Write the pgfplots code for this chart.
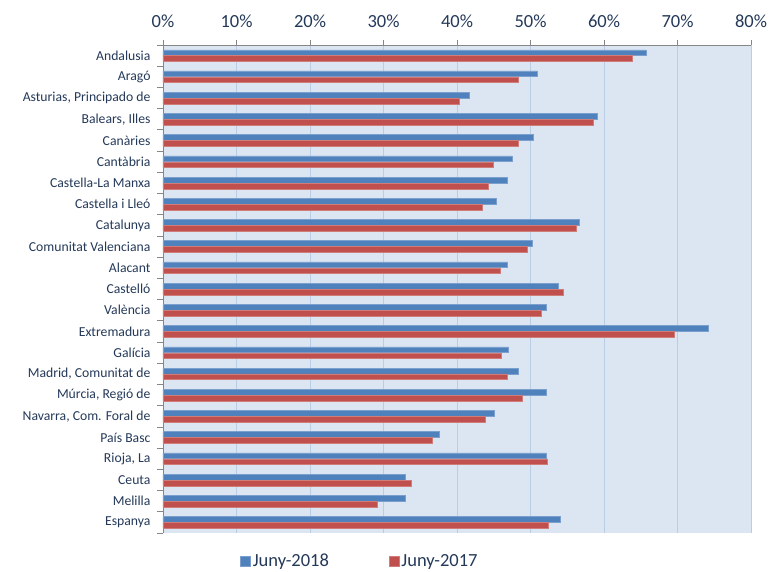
\documentclass[border=0pt]{standalone}
\usepackage{pgfplots}
\pgfplotsset{compat=1.18}
\usepackage{fontspec}
\setmainfont{Carlito}
\definecolor{b18}{RGB}{79,129,189}
\definecolor{r17}{RGB}{192,80,77}
\definecolor{bgc}{RGB}{220,230,242}
\definecolor{gridc}{RGB}{185,205,229}
\definecolor{txt}{RGB}{36,57,89}
\definecolor{axc}{RGB}{134,134,134}
\begin{document}
\begin{tikzpicture}
\useasboundingbox (0,0) rectangle (769pt,571pt);
\begin{axis}[
  at={(163pt,38pt)}, anchor=south west,
  scale only axis, width=588pt, height=488pt,
  xbar, y dir=reverse,
  xmin=0, xmax=80, ymin=-0.5, ymax=22.5,
  axis x line*=top, axis y line*=left,
  axis line style={-, draw=axc, line width=0.8pt},
  axis background/.style={fill=bgc},
  xmajorgrids, grid style={gridc, line width=0.9pt},
  xtick={0,10,...,80},
  xticklabel={\pgfmathprintnumber{\tick}\%},
  /pgf/number format/assume math mode=true,
  xticklabel style={font=\fontsize{18.5}{20}\selectfont, text=txt, yshift=9pt},
  tick align=outside,
  major tick length=5pt,
  minor tick length=6pt,
  tick style={draw=axc, line width=0.8pt},
  ytick={0,...,22},
  minor ytick={-0.5,0.5,...,22.5},
  every major y tick/.append style={draw=none},
  yticklabels={Andalusia,Aragó,{Asturias, Principado de},{Balears, Illes},Canàries,Cantàbria,Castella-La Manxa,Castella i Lleó,Catalunya,Comunitat Valenciana,Alacant,Castelló,València,Extremadura,Galícia,{Madrid, Comunitat de },{Múrcia, Regió de},{Navarra, Com. Foral de},País Basc,{Rioja, La},Ceuta,Melilla,Espanya},
  yticklabel style={font=\fontsize{13.7}{15}\selectfont, text=txt, xshift=-4pt},
  bar width=0.27,
  legend columns=2,
  legend style={at={(0.335,-0.057)}, anchor=center, draw=none, fill=none,
    font=\fontsize{18.5}{20}\selectfont, text=txt,
    /tikz/every even column/.append style={column sep=58pt}},
  legend image code/.code={\fill[#1] (0pt,-5pt) rectangle (10pt,5pt);},
]
\addplot[fill=b18, draw=b18!75!white, line width=0.5pt, bar shift=-0.14] coordinates {
(65.7,0) (50.9,1) (41.7,2) (59.1,3) (50.4,4) (47.5,5) (46.9,6) (45.3,7) (56.6,8) (50.3,9) (46.9,10) (53.8,11) (52.2,12) (74.2,13) (47.0,14) (48.4,15) (52.2,16) (45.1,17) (37.6,18) (52.1,19) (33.0,20) (32.9,21) (54.1,22)
};
\addlegendentry{Juny-2018}
\addplot[fill=r17, draw=r17!75!white, line width=0.5pt, bar shift=0.14] coordinates {
(63.8,0) (48.3,1) (40.3,2) (58.5,3) (48.4,4) (44.9,5) (44.3,6) (43.5,7) (56.2,8) (49.6,9) (45.9,10) (54.5,11) (51.4,12) (69.5,13) (46.0,14) (46.9,15) (48.9,16) (43.8,17) (36.7,18) (52.3,19) (33.8,20) (29.2,21) (52.4,22)
};
\addlegendentry{Juny-2017}
\end{axis}
\end{tikzpicture}
\end{document}
